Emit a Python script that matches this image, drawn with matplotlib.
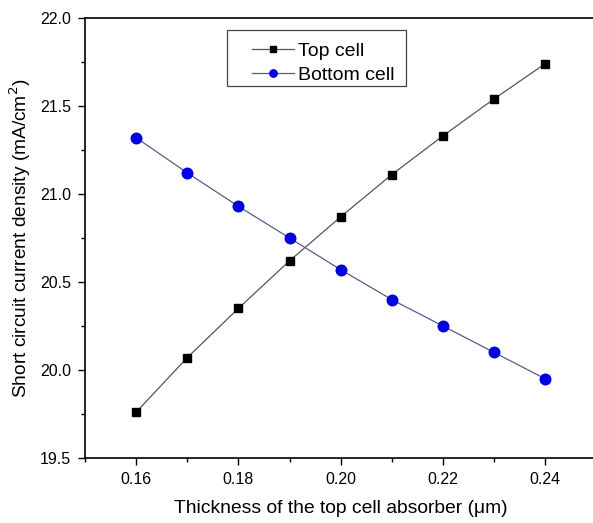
import matplotlib
matplotlib.use('Agg')
import matplotlib.pyplot as plt
from matplotlib.patches import Rectangle
from matplotlib.ticker import MultipleLocator, FormatStrFormatter

plt.rcParams['font.family'] = ['Liberation Sans', 'DejaVu Sans']

thickness = [0.16, 0.17, 0.18, 0.19, 0.20, 0.21, 0.22, 0.23, 0.24]
top_cell = [19.76, 20.07, 20.35, 20.62, 20.87, 21.11, 21.33, 21.54, 21.74]
bottom_cell = [21.32, 21.12, 20.93, 20.75, 20.57, 20.40, 20.25, 20.10, 19.95]

fig = plt.figure(figsize=(5.93, 5.23), dpi=100)
ax = fig.add_axes([0.143, 0.124, 0.863, 0.842])

ax.plot(thickness, top_cell, color='#555555', lw=0.9, marker='s', ms=6.3,
        mfc='black', mec='black', label='Top cell')
ax.plot(thickness, bottom_cell, color='#5a5a8a', lw=0.9, marker='o', ms=7.6,
        mfc='#0000e0', mec='#0000e0', label='Bottom cell')

ax.set_xlim(0.15, 0.25)
ax.set_ylim(19.5, 22.0)
ax.xaxis.set_major_locator(MultipleLocator(0.02))
ax.xaxis.set_minor_locator(MultipleLocator(0.01))
ax.yaxis.set_major_locator(MultipleLocator(0.5))
ax.yaxis.set_minor_locator(MultipleLocator(0.25))
ax.xaxis.set_major_formatter(FormatStrFormatter('%.2f'))
ax.yaxis.set_major_formatter(FormatStrFormatter('%.1f'))
ax.tick_params(which='major', direction='out', length=5, width=1, labelsize=11.5,
               colors='black', pad=5)
ax.tick_params(which='minor', direction='out', length=3, width=1)
for s in ax.spines.values():
    s.set_linewidth(1.2)

ax.set_xlabel('Thickness of the top cell absorber (\u03bcm)', fontsize=13.9, labelpad=9)
ax.set_ylabel('Short circuit current density (mA/cm$^2$)', fontsize=13.8)
ax.yaxis.set_label_coords(-0.102, 0.5)

# legend box drawn separately so the padding matches the original
leg = ax.legend(loc='upper left', bbox_to_anchor=(0.326, 0.944), fontsize=14,
                frameon=False, handlelength=2.2, borderpad=0, labelspacing=0.32,
                handletextpad=0.2, borderaxespad=0, markerscale=0.7)
ax.add_patch(Rectangle((0.277, 0.845), 0.35, 0.127, transform=ax.transAxes,
                       fill=False, edgecolor='#444444', lw=0.9, zorder=5))

fig.savefig('out.png', dpi=100)
